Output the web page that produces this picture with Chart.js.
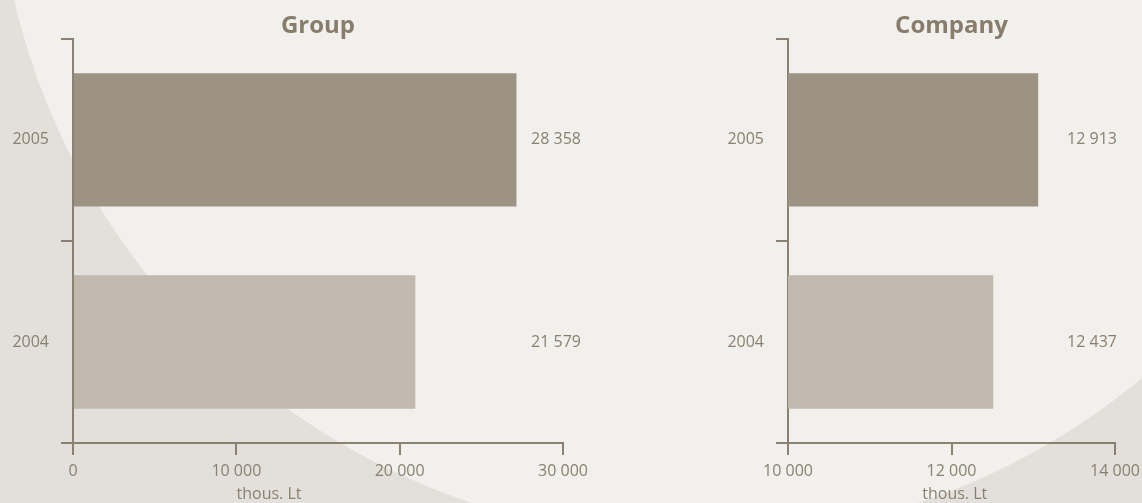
<!DOCTYPE html>
<html>
<head>
<meta charset="utf-8">
<script src="https://cdn.jsdelivr.net/npm/chart.js@4/dist/chart.umd.min.js"></script>
<style>
  html, body { margin: 0; padding: 0; }
  body {
    width: 1142px;
    height: 503px;
    overflow: hidden;
    position: relative;
    background: radial-gradient(circle 700px at 695px -160px, #f1f0ec 0, #f1f0ec 699px, #e3e0dc 700px);
  }
  .box { position: absolute; top: 0; height: 503px; }
  #groupBox { left: 0; width: 620px; }
  #companyBox { left: 700px; width: 442px; }
</style>
</head>
<body>
<div class="box" id="groupBox"><canvas id="groupChart"></canvas></div>
<div class="box" id="companyBox"><canvas id="companyChart"></canvas></div>
<script>
const years = ['2005', '2004'];
// bar lengths as drawn in the picture
const groupValues = [27150, 20960];
const companyValues = [13060, 12510];
// printed value labels
const groupLabels = ['28 358', '21 579'];
const companyLabels = ['12 913', '12 437'];
const groupTicks = [0, 10000, 20000, 30000];
const companyTicks = [10000, 12000, 14000];
const barColors = ['#9c9385', '#c1b9ae'];
const unitLabel = 'thous. Lt';

const axisColor = '#8b8170';
const textColor = '#8a8070';

Chart.defaults.font.family = "'Open Sans', sans-serif";
Chart.defaults.font.size = 16;
Chart.defaults.color = textColor;

function fmt(v) {
    return String(v).replace(/\B(?=(\d{3})+(?!\d))/g, ' ');
}

// value labels in a column on the right, plus the unit under the x axis
const sideLabels = {
    id: 'sideLabels',
    afterDatasetsDraw(chart, args, opts) {
        const { ctx, chartArea } = chart;
        const meta = chart.getDatasetMeta(0);
        ctx.save();
        ctx.font = "16px 'Open Sans', sans-serif";
        ctx.fillStyle = textColor;
        ctx.textAlign = 'center';
        ctx.textBaseline = 'middle';
        meta.data.forEach((bar, i) => {
            ctx.fillText(opts.labels[i], chartArea.right + opts.offset, bar.y);
        });
        const x = chartArea.left + opts.unitAt * (chartArea.right - chartArea.left);
        ctx.fillText(unitLabel, x, chartArea.bottom + 51);
        ctx.restore();
    }
};

function makeChart(id, title, values, labels, ticks, axisWidth, padRight, labelOffset, unitAt) {
    const ctx = document.getElementById(id).getContext('2d');
    return new Chart(ctx, {
        type: 'bar',
        data: {
            labels: years,
            datasets: [{
                data: values,
                backgroundColor: barColors,
                borderWidth: 0,
                barPercentage: 0.66,
                categoryPercentage: 1
            }]
        },
        options: {
            indexAxis: 'y',
            responsive: true,
            maintainAspectRatio: false,
            animation: false,
            layout: { padding: { left: 0, right: padRight, top: 0, bottom: 0 } },
            plugins: {
                legend: { display: false },
                tooltip: { enabled: false },
                title: {
                    display: true,
                    text: title,
                    fullSize: false,
                    color: '#887d6b',
                    font: { size: 24, weight: 'bold', lineHeight: 1.033 },
                    padding: { top: 14, bottom: 0 }
                },
                sideLabels: { labels: labels, offset: labelOffset, unitAt: unitAt }
            },
            scales: {
                x: {
                    min: ticks[0],
                    max: ticks[ticks.length - 1],
                    afterBuildTicks: (s) => { s.ticks = ticks.map(v => ({ value: v })); },
                    afterFit: (s) => { s.height = 60; s.paddingLeft = 0; s.paddingRight = 0; },
                    ticks: { padding: 7, callback: (v) => fmt(v), maxRotation: 0 },
                    grid: { drawOnChartArea: false, tickLength: 12, color: axisColor, lineWidth: 2 },
                    border: { color: axisColor, width: 2 }
                },
                y: {
                    afterFit: (s) => { s.width = axisWidth; s.paddingTop = 0; s.paddingBottom = 0; },
                    ticks: { padding: 12 },
                    grid: { offset: true, drawOnChartArea: false, tickLength: 12, color: axisColor, lineWidth: 2 },
                    border: { color: axisColor, width: 2 }
                }
            }
        },
        plugins: [sideLabels]
    });
}

makeChart('groupChart', 'Group', groupValues, groupLabels, groupTicks, 73, 57, -7, 0.4);
makeChart('companyChart', 'Company', companyValues, companyLabels, companyTicks, 88, 27, -23, 0.51);
</script>
</body>
</html>
